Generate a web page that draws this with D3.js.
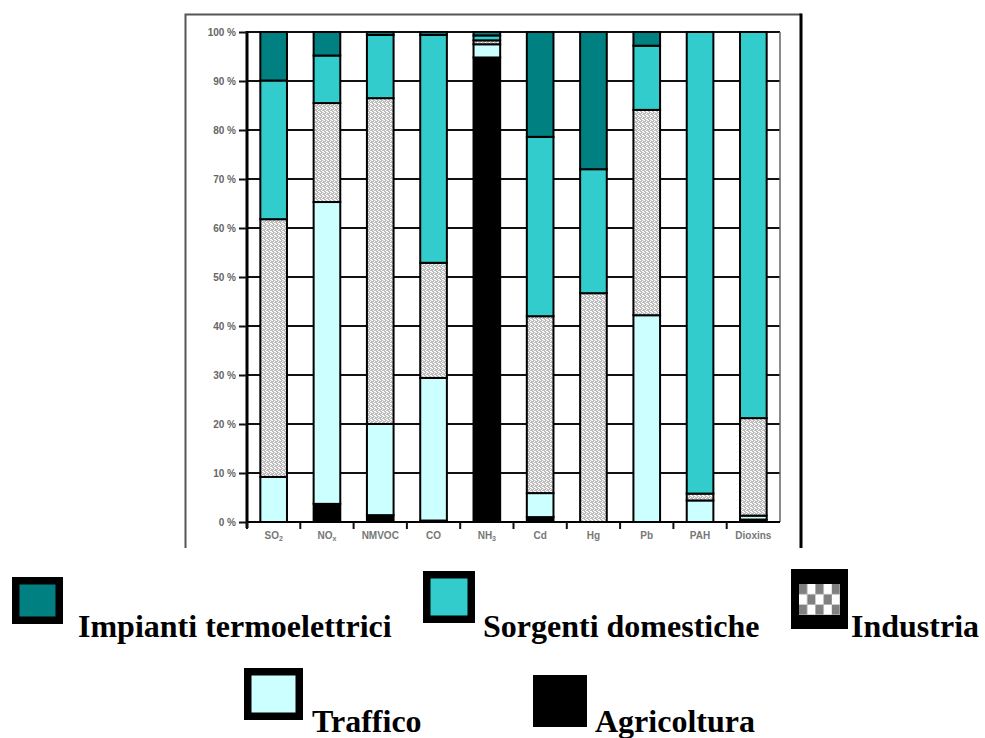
<!DOCTYPE html>
<html><head><meta charset="utf-8">
<script src="https://cdn.jsdelivr.net/npm/d3@7"></script>
<style>body{margin:0;background:#fff}svg{display:block}</style>
</head><body>
<svg id="c" width="985" height="738"></svg>
<script>
// ---- data (percent share of each emission source) ----
const categories = ["SO2","NOx","NMVOC","CO","NH3","Cd","Hg","Pb","PAH","Dioxins"];
const seriesKeys = ["agricoltura","traffico","industria","domestiche","termo"];
const agricoltura = [0, 3.7, 1.4, 0.3, 94.8, 1.0, 0, 0, 0, 0.5];
const traffico    = [9.2, 61.6, 18.6, 29.1, 2.7, 4.9, 0, 42.2, 4.4, 0.8];
const industria   = [52.6, 20.2, 66.5, 23.5, 0.8, 36.1, 46.7, 41.9, 1.4, 19.9];
const domestiche  = [28.3, 9.7, 12.9, 46.5, 1.0, 36.6, 25.3, 13.1, 94.2, 78.8];
const termo       = [9.9, 4.8, 0.6, 0.6, 0.7, 21.4, 28.0, 2.8, 0, 0];
const yTicks = [0,10,20,30,40,50,60,70,80,90,100];
const legendLabels = {
  termo: "Impianti termoelettrici",
  domestiche: "Sorgenti domestiche",
  industria: "Industria",
  traffico: "Traffico",
  agricoltura: "Agricoltura"
};

const colors = {
  termo: "#008080",
  domestiche: "#33CCCC",
  industria: "url(#indPat)",
  traffico: "#CCFFFF",
  agricoltura: "#000000"
};

const svg = d3.select("#c");
const defs = svg.append("defs");
const pat = defs.append("pattern").attr("id","indPat").attr("patternUnits","userSpaceOnUse")
  .attr("width",4).attr("height",4);
pat.append("rect").attr("width",4).attr("height",4).attr("fill","#bcbcbc");
[[0,0],[2,1],[1,2],[3,3],[2,3]].forEach(p=>{
  pat.append("rect").attr("x",p[0]).attr("y",p[1]).attr("width",1).attr("height",1).attr("fill","#ffffff");
});
pat.append("rect").attr("x",3).attr("y",0).attr("width",1).attr("height",1).attr("fill","#e8e8e8");

const legPat = defs.append("pattern").attr("id","legPat").attr("patternUnits","userSpaceOnUse")
  .attr("x",799).attr("y",584).attr("width",16.4).attr("height",20.6);
legPat.append("rect").attr("width",16.4).attr("height",20.6).attr("fill","#ffffff");
legPat.append("rect").attr("width",8.2).attr("height",10.3).attr("fill","#808080");
legPat.append("rect").attr("x",8.2).attr("y",10.3).attr("width",8.2).attr("height",10.3).attr("fill","#808080");

// ---- frame ----
svg.append("path").attr("d","M185.5,548 V14.5 H801").attr("fill","none").attr("stroke","#555").attr("stroke-width",2);
svg.append("line").attr("x1",801).attr("x2",801).attr("y1",13.5).attr("y2",548).attr("stroke","#000").attr("stroke-width",3);

// ---- scales ----
const x = d3.scaleBand().domain(categories).range([247,780]).paddingInner(0.5).paddingOuter(0.25);
const y = d3.scaleLinear().domain([0,100]).range([522,32]);

// gridlines
svg.append("g").selectAll("line").data(yTicks).join("line")
  .attr("x1",247).attr("x2",780).attr("y1",d=>y(d)).attr("y2",d=>y(d))
  .attr("stroke","#111").attr("stroke-width",2);
// right boundary of plot
svg.append("line").attr("x1",780).attr("x2",780).attr("y1",y(100)).attr("y2",y(0))
  .attr("stroke","#666").attr("stroke-width",1.5);

// y axis
const yAxis = svg.append("g").attr("transform","translate(247,0)")
  .call(d3.axisLeft(y).tickValues(yTicks).tickSize(8).tickPadding(3).tickFormat(d=>d+" %"));
yAxis.select(".domain").attr("stroke","#000").attr("stroke-width",3).attr("d","M0,"+(y(100)-1)+"V"+(y(0)+6));
yAxis.selectAll(".tick line").attr("stroke","#111").attr("stroke-width",2);
yAxis.selectAll(".tick text").attr("fill","#666").attr("font-family","Arial, 'Liberation Sans', sans-serif")
  .attr("font-size",10).attr("font-weight","bold").attr("dy","0.35em");

// x axis (labels at centers, ticks at category boundaries)
const xAxis = svg.append("g").attr("transform","translate(0,"+y(0)+")")
  .call(d3.axisBottom(x).tickSize(0).tickPadding(10));
xAxis.select(".domain").remove();
xAxis.selectAll(".tick text").attr("fill","#777").attr("font-family","Arial, 'Liberation Sans', sans-serif")
  .attr("font-size",10).attr("font-weight","bold")
  .each(function(d){
    const m = d.match(/^(SO|NO|NH)(\d|x)$/);
    if (m) {
      const t = d3.select(this).text("");
      t.append("tspan").text(m[1]);
      t.append("tspan").text(m[2]).attr("font-size",7).attr("dy","2");
    }
  });
svg.append("line").attr("x1",247).attr("x2",780).attr("y1",y(0)).attr("y2",y(0)).attr("stroke","#000").attr("stroke-width",2);
const step = x.step();
svg.append("g").selectAll("line").data(d3.range(categories.length)).join("line")
  .attr("x1",i=>247+i*step).attr("x2",i=>247+i*step)
  .attr("y1",y(0)).attr("y2",y(0)+7).attr("stroke","#111").attr("stroke-width",2);

// ---- stacked bars ----
const table = categories.map((c,i)=>({cat:c, agricoltura:agricoltura[i], traffico:traffico[i],
  industria:industria[i], domestiche:domestiche[i], termo:termo[i]}));
const stack = d3.stack().keys(seriesKeys)(table);
svg.append("g").selectAll("g").data(stack).join("g")
  .attr("fill",s=>colors[s.key])
  .selectAll("rect").data(s=>s.filter(d=>d[1]-d[0]>0)).join("rect")
  .attr("x",d=>x(d.data.cat)).attr("width",x.bandwidth())
  .attr("y",d=>y(d[1])).attr("height",d=>y(d[0])-y(d[1]))
  .attr("stroke","#000").attr("stroke-width",2);

// ---- legend ----
const legendItems = [
  {key:"termo", sx:12, sy:577, sw:51, sh:47, tx:78, ty:637},
  {key:"domestiche", sx:423, sy:571, sw:52, sh:52, tx:483, ty:637},
  {key:"industria", sx:791, sy:569, sw:57, sh:60, tx:851, ty:637},
  {key:"traffico", sx:244, sy:668, sw:59, sh:52, tx:312, ty:732},
  {key:"agricoltura", sx:533, sy:675, sw:54, sh:52, tx:595, ty:732}
];
const lg = svg.append("g");
legendItems.forEach(it=>{
  lg.append("rect").attr("x",it.sx).attr("y",it.sy).attr("width",it.sw).attr("height",it.sh).attr("fill","#000");
  if (it.key==="industria") {
    lg.append("rect").attr("x",799).attr("y",584).attr("width",41).attr("height",31).attr("fill","url(#legPat)");
  } else if (it.key!=="agricoltura") {
    lg.append("rect").attr("x",it.sx+7.5).attr("y",it.sy+7.5).attr("width",it.sw-15).attr("height",it.sh-15)
      .attr("fill",colors[it.key]);
  }
  lg.append("text").attr("x",it.tx).attr("y",it.ty).text(legendLabels[it.key])
    .attr("font-family","'Liberation Serif','Times New Roman',serif").attr("font-weight","bold")
    .attr("font-size",32).attr("fill","#000");
});
</script>
</body></html>
